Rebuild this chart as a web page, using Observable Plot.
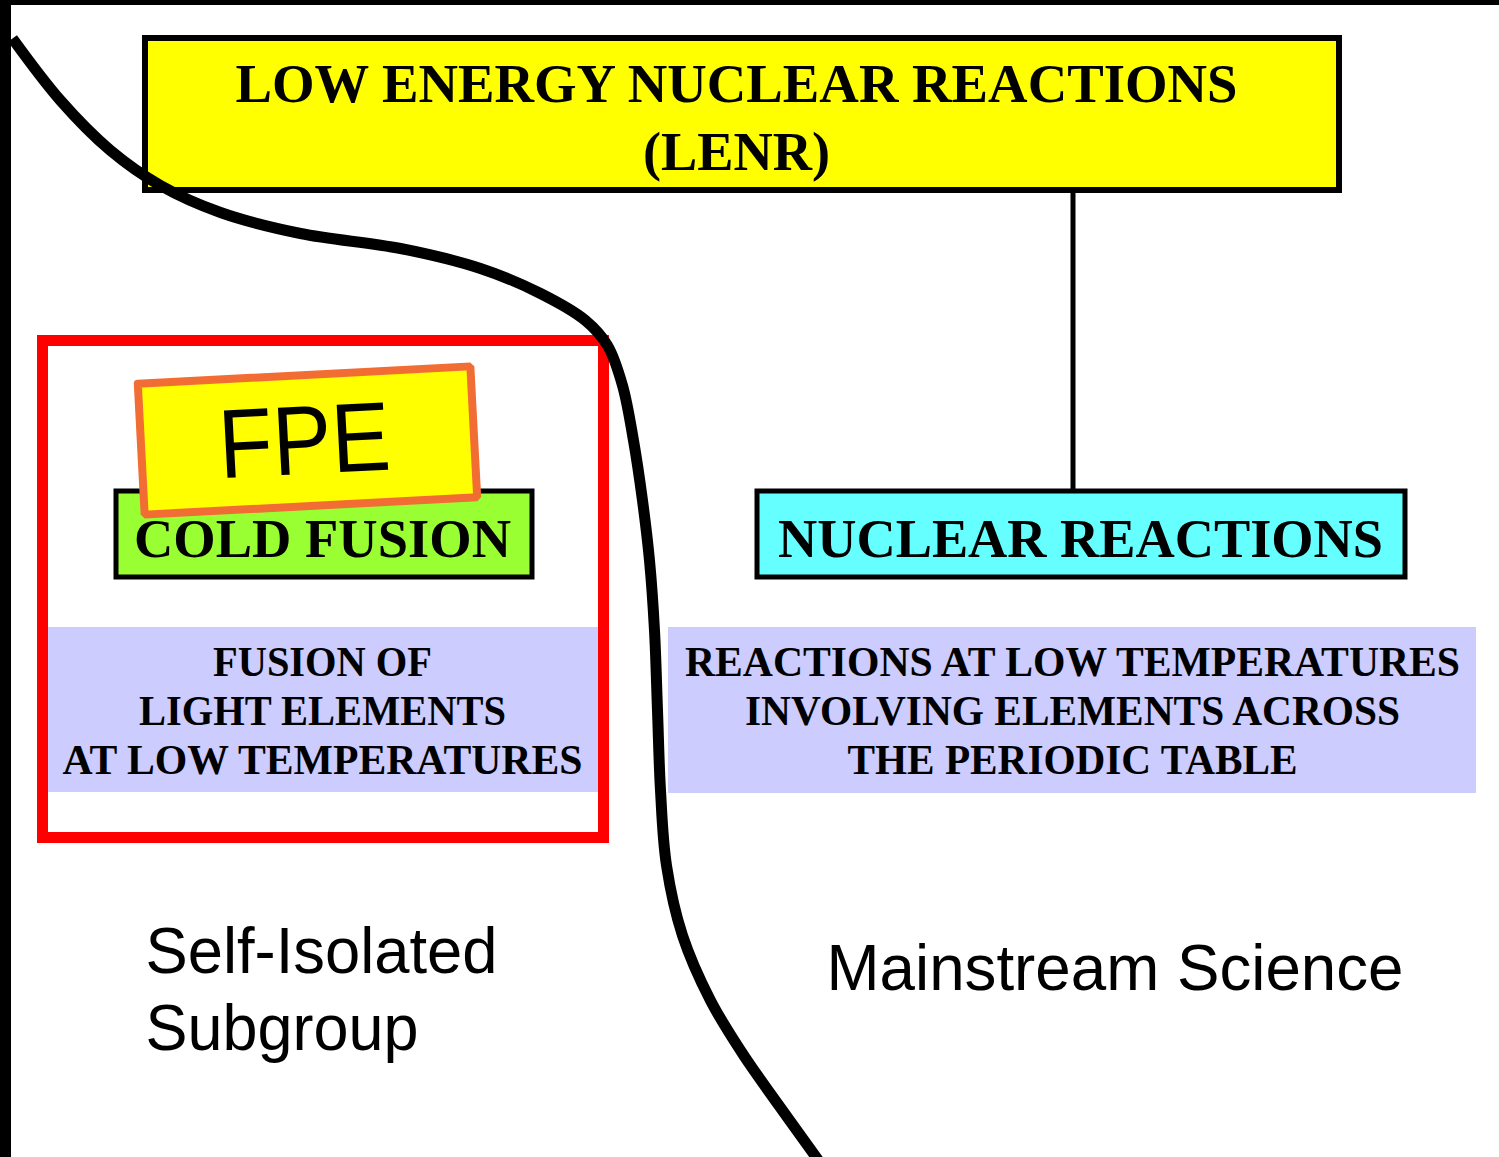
<!DOCTYPE html>
<html>
<head>
<meta charset="utf-8">
<script src="https://cdn.jsdelivr.net/npm/d3@7"></script>
<script src="https://cdn.jsdelivr.net/npm/@observablehq/plot@0.6"></script>
<style>
  html, body { margin: 0; padding: 0; background: #fff; }
  #chart svg { display: block; }
</style>
</head>
<body>
<div id="chart"></div>
<script>
// ---- content (text of the diagram) ----
const titleLines = ["LOW ENERGY NUCLEAR REACTIONS", "(LENR)"];
const branchNames = ["COLD FUSION", "NUCLEAR REACTIONS"];
const leftDesc = ["FUSION OF", "LIGHT ELEMENTS", "AT LOW TEMPERATURES"];
const rightDesc = ["REACTIONS AT LOW TEMPERATURES", "INVOLVING ELEMENTS ACROSS", "THE PERIODIC TABLE"];
const leftGroup = ["Self-Isolated", "Subgroup"];
const rightGroup = ["Mainstream Science"];
const stampLabel = "FPE";

// ---- dividing curve (pixel space) ----
const curveX = [12, 60, 110, 160, 220, 300, 400, 480, 540, 585, 607, 622, 633, 642, 649, 654, 657, 660, 666, 682, 710, 742, 777, 818];
const curveY = [38, 100, 150, 185, 212, 233, 248, 268, 293, 320, 345, 385, 440, 500, 560, 630, 710, 790, 865, 935, 1000, 1053, 1103, 1160];

// ---- layout (pixel space) ----
const W = 1499, H = 1157;
const layout = {
  lenr: {x1: 145, x2: 1339, y1: 38, y2: 190},
  cold: {x1: 116, x2: 532, y1: 491, y2: 577},
  nucl: {x1: 757, x2: 1405, y1: 491, y2: 577},
  lavL: {x1: 40, x2: 600, y1: 627, y2: 792},
  lavR: {x1: 668, x2: 1476, y1: 627, y2: 793},
  red:  {x1: 42.5, x2: 603.5, y1: 340.5, y2: 837.5},
  connector: {x: 1072.5, y1: 190, y2: 491},
  fpe: {cx: 307, cy: 440, w: 333, h: 131, angle: -3},
  titleY: [84, 152], titleX: 736,
  branchY: 539, branchX: [322, 1080],
  descY: [662, 711, 760], descX: [322, 1072],
  leftGroupX: 145, leftGroupY: [952.5, 1029.5],
  rightGroupX: 826, rightGroupY: [969.5],
  fpeTextDx: -3
};
const colors = {
  yellow: "#ffff00", green: "#99ff33", cyan: "#66ffff", lavender: "#ccccff",
  red: "#ff0000", orange: "#f26d33", ink: "#000000"
};
const fitWidths = {
  "LOW ENERGY NUCLEAR REACTIONS": 1002, "(LENR)": 187,
  "COLD FUSION": 377, "NUCLEAR REACTIONS": 605,
  "FUSION OF": 219, "LIGHT ELEMENTS": 367, "AT LOW TEMPERATURES": 520,
  "REACTIONS AT LOW TEMPERATURES": 775, "INVOLVING ELEMENTS ACROSS": 655, "THE PERIODIC TABLE": 450,
  "FPE": 172, "Self-Isolated": 352, "Subgroup": 273, "Mainstream Science": 577
};

// ---- derived tables ----
const curve = curveX.map((x, i) => ({x, y: curveY[i]}));
const L = layout;
const f = L.fpe, a = f.angle * Math.PI / 180;
const fpeCorners = [[-1,-1],[1,-1],[1,1],[-1,1],[-1,-1]].map(([sx, sy]) => {
  const dx = sx * f.w / 2, dy = sy * f.h / 2;
  return {x: f.cx + dx * Math.cos(a) - dy * Math.sin(a), y: f.cy + dx * Math.sin(a) + dy * Math.cos(a)};
});
const titleRows = titleLines.map((t, i) => ({t, x: L.titleX, y: L.titleY[i]}));
const branchRows = branchNames.map((t, i) => ({t, x: L.branchX[i], y: L.branchY}));
const descRows = [
  ...leftDesc.map((t, i) => ({t, x: L.descX[0], y: L.descY[i]})),
  ...rightDesc.map((t, i) => ({t, x: L.descX[1], y: L.descY[i]}))
];
const groupRows = [
  ...leftGroup.map((t, i) => ({t, x: L.leftGroupX, y: L.leftGroupY[i]})),
  ...rightGroup.map((t, i) => ({t, x: L.rightGroupX, y: L.rightGroupY[i]}))
];

const serif = "'Liberation Serif', 'Times New Roman', serif";
const sans = "'Liberation Sans', Arial, sans-serif";

const chart = Plot.plot({
  width: W, height: H, margin: 0,
  x: {domain: [0, W], range: [0, W], axis: null},
  y: {domain: [0, H], range: [0, H], axis: null},
  marks: [
    // lavender description panels
    Plot.rect([L.lavL, L.lavR], {x1: "x1", x2: "x2", y1: "y1", y2: "y2", fill: colors.lavender}),
    // connector
    Plot.ruleX([L.connector], {x: "x", y1: "y1", y2: "y2", stroke: colors.ink, strokeWidth: 5}),
    // main boxes
    Plot.rect([L.lenr], {x1: "x1", x2: "x2", y1: "y1", y2: "y2", fill: colors.yellow, stroke: colors.ink, strokeWidth: 6}),
    Plot.rect([L.cold], {x1: "x1", x2: "x2", y1: "y1", y2: "y2", fill: colors.green, stroke: colors.ink, strokeWidth: 5}),
    Plot.rect([L.nucl], {x1: "x1", x2: "x2", y1: "y1", y2: "y2", fill: colors.cyan, stroke: colors.ink, strokeWidth: 5}),
    // texts in boxes
    Plot.text(titleRows, {x: "x", y: "y", text: "t", fontFamily: serif, fontWeight: "bold", fontSize: 55, fill: colors.ink}),
    Plot.text(branchRows, {x: "x", y: "y", text: "t", fontFamily: serif, fontWeight: "bold", fontSize: 54, fill: colors.ink}),
    Plot.text(descRows, {x: "x", y: "y", text: "t", fontFamily: serif, fontWeight: "bold", fontSize: 42, fill: colors.ink}),
    // red highlight frame
    Plot.rect([L.red], {x1: "x1", x2: "x2", y1: "y1", y2: "y2", fill: "none", stroke: colors.red, strokeWidth: 11}),
    // FPE stamp
    Plot.line(fpeCorners, {x: "x", y: "y", fill: colors.yellow, stroke: colors.orange, strokeWidth: 8, strokeLinejoin: "miter"}),
    Plot.text([{t: stampLabel, x: f.cx + L.fpeTextDx, y: f.cy + 2}], {x: "x", y: "y", text: "t", rotate: f.angle, fontFamily: sans, fontSize: 98, fill: colors.ink}),
    // group captions
    Plot.text(groupRows, {x: "x", y: "y", text: "t", textAnchor: "start", fontFamily: sans, fontSize: 64, fill: colors.ink}),
    // dividing curve
    Plot.line(curve, {x: "x", y: "y", curve: "catmull-rom", stroke: colors.ink, strokeWidth: 11, strokeLinecap: "butt"}),
    // frame edges (top and left)
    Plot.rect([{x1: 0, x2: W, y1: 0, y2: 5}, {x1: 0, x2: 11, y1: 0, y2: H}], {x1: "x1", x2: "x2", y1: "y1", y2: "y2", fill: colors.ink})
  ]
});

// fit text widths to the reference
d3.select(chart).selectAll("text").each(function() {
  const t = this.textContent;
  if (fitWidths[t] != null) {
    this.setAttribute("textLength", fitWidths[t]);
    this.setAttribute("lengthAdjust", "spacingAndGlyphs");
  }
});

document.getElementById("chart").appendChild(chart);
</script>
</body>
</html>
